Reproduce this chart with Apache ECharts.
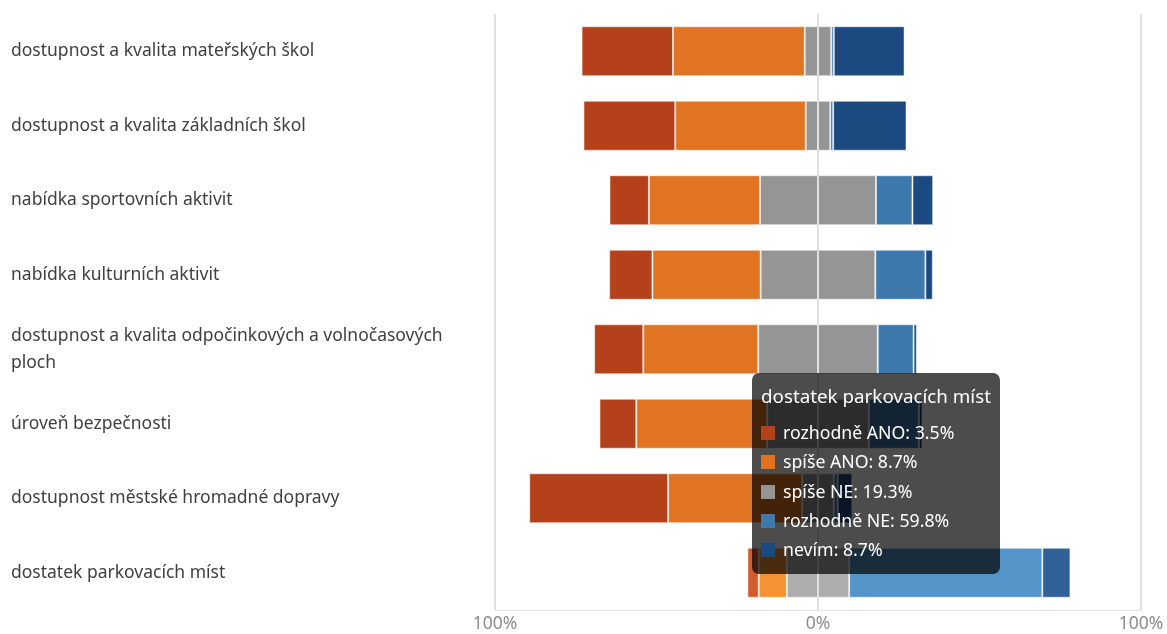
<!DOCTYPE html>
<html>
<head>
<meta charset="utf-8">
<script src="https://cdn.jsdelivr.net/npm/echarts@6/dist/echarts.min.js"></script>
<style>
html,body{margin:0;padding:0;background:#fff;}
#chart{width:1167px;height:634px;}
</style>
</head>
<body>
<div id="chart"></div>
<script>
var categories = [
  'dostupnost a kvalita mateřských škol',
  'dostupnost a kvalita základních škol',
  'nabídka sportovních aktivit',
  'nabídka kulturních aktivit',
  'dostupnost a kvalita odpočinkových a volnočasových ploch',
  'úroveň bezpečnosti',
  'dostupnost městské hromadné dopravy',
  'dostatek parkovacích míst'
];
var seriesNames = ['rozhodně ANO', 'spíše ANO', 'spíše NE', 'rozhodně NE', 'nevím'];
var rozhodneANO = [28.3, 28.4, 12.2, 13.4, 15.2, 11.4, 43.0, 3.5];
var spiseANO    = [40.8, 40.4, 34.4, 33.5, 35.6, 40.5, 41.5, 8.7];
var spiseNE     = [8.2, 7.6, 35.9, 35.5, 37.0, 31.5, 9.8, 19.3];
var rozhodneNE  = [0.8, 0.9, 11.3, 15.5, 11.1, 15.5, 1.2, 59.8];
var nevim       = [21.9, 22.7, 6.4, 2.3, 1.0, 1.1, 4.5, 8.7];

var colors = ['#b5411a', '#e17423', '#959595', '#3e79ae', '#1c4a80'];
var hiColors = ['#d45a2b', '#f59234', '#adadad', '#5594c9', '#2f6098'];
var hiIndex = 7;
var FONT = '"Noto Sans", "Open Sans", sans-serif';
var LABEL_SIZE = 17.5;
var LABEL_WIDTH = 470;

var measureCtx = document.createElement('canvas').getContext('2d');
function wrapLabel(text) {
  measureCtx.font = LABEL_SIZE + 'px ' + FONT;
  var words = text.split(' ');
  var lines = [];
  var cur = '';
  for (var i = 0; i < words.length; i++) {
    var test = cur ? cur + ' ' + words[i] : words[i];
    if (cur && measureCtx.measureText(test).width > LABEL_WIDTH) {
      lines.push(cur);
      cur = words[i];
    } else {
      cur = test;
    }
  }
  if (cur) lines.push(cur);
  return lines.join('\n');
}

function build(values, sign, colorIdx) {
  return values.map(function (v, i) {
    var item = { value: sign * v };
    if (i === hiIndex) item.itemStyle = { color: hiColors[colorIdx] };
    return item;
  });
}
function half(arr) { return arr.map(function (v) { return v / 2; }); }

function bar(name, data, colorIdx) {
  return {
    name: name, type: 'bar', stack: 'total', barWidth: 50,
    data: data,
    itemStyle: { color: colors[colorIdx], borderColor: 'rgba(255,255,255,0.5)', borderWidth: 1 },
    emphasis: { disabled: true }
  };
}

var series = [
  bar('spíše NE', build(half(spiseNE), -1, 2), 2),
  bar('spíše NE ', build(half(spiseNE), 1, 2), 2),
  bar('spíše ANO', build(spiseANO, -1, 1), 1),
  bar('rozhodně ANO', build(rozhodneANO, -1, 0), 0),
  bar('rozhodně NE', build(rozhodneNE, 1, 3), 3),
  bar('nevím', build(nevim, 1, 4), 4)
];

var lists = [rozhodneANO, spiseANO, spiseNE, rozhodneNE, nevim];

var chart = echarts.init(document.getElementById('chart'));
chart.setOption({
  animation: false,
  textStyle: { fontFamily: FONT },
  grid: { left: 495, right: 26, top: 14, bottom: 24, containLabel: false },
  xAxis: {
    type: 'value', min: -100, max: 100, interval: 100, z: 10,
    axisLine: { show: true, lineStyle: { color: '#e6e6e6', width: 1 } },
    axisTick: { show: false },
    splitLine: { show: true, lineStyle: { color: '#e0e0e0', width: 2 } },
    axisLabel: {
      color: '#8c8c8c', fontSize: 17.5, fontFamily: FONT, margin: 5,
      formatter: function (v) { return Math.abs(v) + '%'; }
    }
  },
  yAxis: {
    type: 'category', data: categories, inverse: true,
    axisLine: { show: false }, axisTick: { show: false },
    axisLabel: {
      align: 'left', margin: 484,
      color: '#404040', fontSize: LABEL_SIZE, lineHeight: 27, fontFamily: FONT,
      formatter: function (v) { return wrapLabel(v); }
    }
  },
  tooltip: {
    trigger: 'axis',
    axisPointer: { type: 'none' },
    alwaysShowContent: true,
    position: [752, 373],
    backgroundColor: 'rgba(0,0,0,0.7)',
    borderWidth: 0,
    padding: [10, 9, 10, 9],
    transitionDuration: 0,
    textStyle: { color: '#fff', fontSize: 17.7, fontFamily: FONT },
    extraCssText: 'border-radius:7px;box-shadow:none;',
    formatter: function (params) {
      var i = params[0].dataIndex;
      var html = '<div style="font-size:18.8px;line-height:26px;margin-bottom:9px;">' + categories[i] + '</div>';
      for (var k = 0; k < seriesNames.length; k++) {
        html += '<div style="line-height:29.3px;white-space:nowrap;">' +
          '<span style="display:inline-block;width:14px;height:14px;background:' + colors[k] +
          ';margin-right:8px;vertical-align:-1px;"></span>' +
          seriesNames[k] + ': ' + lists[k][i] + '%</div>';
      }
      return html;
    }
  },
  series: series
});
chart.dispatchAction({ type: 'showTip', seriesIndex: 0, dataIndex: hiIndex });
</script>
</body>
</html>
